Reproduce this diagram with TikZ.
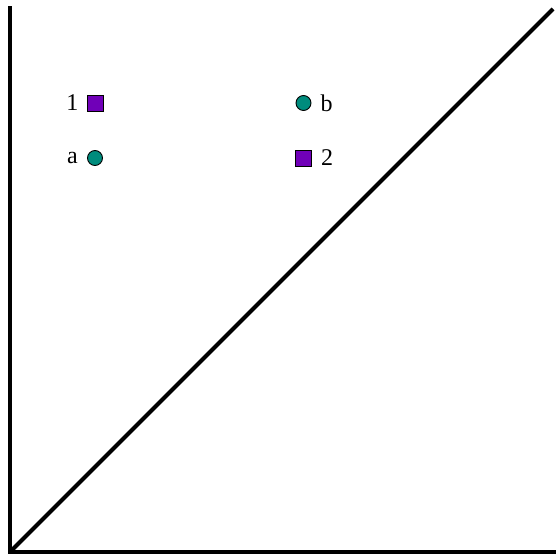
\documentclass[tikz,border=0pt]{standalone}
\usepackage{fontspec}
\setmainfont{Liberation Serif}
\usetikzlibrary{positioning}
\definecolor{sqpurple}{RGB}{112,0,184}
\definecolor{dotteal}{RGB}{0,140,125}

\begin{document}
\begin{tikzpicture}[
    x=1pt, y=1pt,
    axis/.style={line width=4pt, line cap=rect},
    sq/.style={draw, line width=0.9pt, fill=sqpurple, minimum size=16pt, inner sep=0pt},
    dot/.style={circle, draw, line width=0.9pt, fill=dotteal, minimum size=15pt, inner sep=0pt},
    lab/.style={font=\rmfamily\fontsize{24}{26}\selectfont, inner sep=0pt}
]
\useasboundingbox (0,0) rectangle (555,557);
\coordinate (top) at (10,549);
\coordinate (origin) at (10,5);
\coordinate (right) at (555,5);
\coordinate (corner) at (553,548);

\draw[axis] (top) -- (origin) -- (right);
\draw[axis, line cap=butt] (origin) -- (corner);

\node[sq] (one) at (95,454) {};
\node[lab, left=8pt of one] (onelab) {1};
\node[dot] (a) at (95,399) {};
\node[lab, left=9pt of a] (alab) {a};
\node[dot] (b) at (303.5,454) {};
\node[lab, right=9pt of b] (blab) {b};
\node[sq] (two) at (303.5,399) {};
\node[lab, right=9pt of two] (twolab) {2};
\end{tikzpicture}
\end{document}
